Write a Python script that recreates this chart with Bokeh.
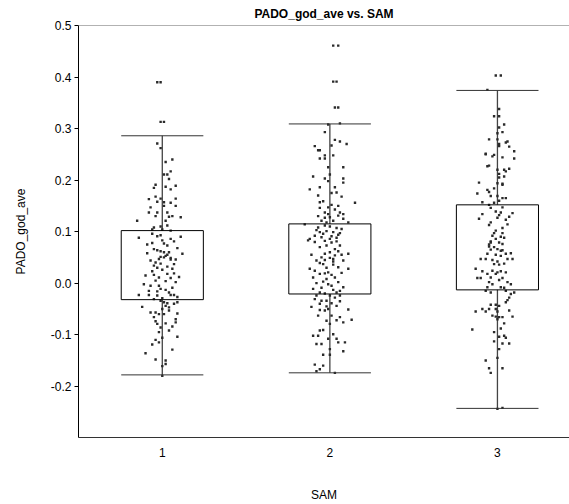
from bokeh.plotting import figure
from bokeh.models import Range1d, FixedTicker, PrintfTickFormatter, Span, ColumnDataSource
from bokeh.embed import file_html
from bokeh.resources import INLINE

# ---------------- data ----------------
categories = [1, 2, 3]
tick_labels = {1: "1", 2: "2", 3: "3"}
y_ticks = [-0.2, -0.1, 0.0, 0.1, 0.2, 0.3, 0.4, 0.5]

# box statistics
whisker_low = [-0.178, -0.174, -0.243]
q1 = [-0.032, -0.021, -0.013]
median = [0.023, 0.041, 0.051]
q3 = [0.102, 0.115, 0.152]
whisker_high = [0.286, 0.309, 0.374]

# individual observations: (jitter, value)
g1_points = [
    (-0.03, 0.390), (-0.01, 0.390), (-0.01, 0.313), (0.01, 0.313),
    (-0.03, 0.271), (-0.01, 0.262), (0.06, 0.240), (0.02, 0.235), (0.05, 0.217),
    (0.01, 0.211), (0.03, 0.211), (0.04, 0.202), (-0.04, 0.191), (-0.05, 0.185),
    (0.02, 0.187), (0.05, 0.182), (0.08, 0.189), (-0.01, 0.164), (-0.04, 0.168),
    (-0.08, 0.163), (0.08, 0.164), (-0.03, 0.158), (0.01, 0.157), (0.05, 0.156),
    (-0.07, 0.147), (0.01, 0.150), (0.08, 0.150), (-0.08, 0.137), (-0.03, 0.137),
    (0.03, 0.137), (-0.04, 0.130), (0.04, 0.129), (0.06, 0.130), (0.11, 0.128),
    (-0.15, 0.121), (0.02, 0.121), (0.03, 0.112), (-0.05, 0.108), (-0.01, 0.110),
    (0.00, 0.104), (0.05, 0.102), (-0.06, 0.104),
    (-0.14, 0.088), (-0.03, 0.091), (-0.01, 0.093), (0.11, 0.090), (-0.06, 0.078),
    (-0.09, 0.075), (0.00, 0.083), (0.01, 0.077), (0.03, 0.073), (0.05, 0.086),
    (-0.05, 0.066), (-0.03, 0.064), (-0.01, 0.062), (0.01, 0.060), (0.04, 0.060),
    (0.12, 0.057), (0.02, 0.053), (-0.01, 0.051), (-0.02, 0.047), (0.05, 0.046),
    (0.08, 0.046), (0.03, 0.055), (0.01, 0.050), (0.05, 0.049), (-0.07, 0.044),
    (-0.04, 0.040), (-0.01, 0.038), (0.07, 0.037), (-0.05, 0.034), (0.03, 0.032),
    (-0.03, 0.030), (0.06, 0.028), (0.00, 0.026), (-0.10, 0.015), (-0.05, 0.016),
    (0.03, 0.018), (0.07, 0.019), (-0.02, 0.011), (0.05, 0.010), (-0.04, 0.005),
    (0.02, 0.004), (0.08, 0.002), (-0.07, -0.005), (-0.02, -0.005), (-0.01, -0.011),
    (0.06, -0.009), (-0.08, -0.015), (-0.03, -0.016), (0.04, -0.018), (-0.14, -0.023),
    (-0.08, -0.023), (-0.03, -0.024), (0.05, -0.023), (0.07, -0.023), (0.00, -0.029),
    (-0.05, -0.031),
    (-0.01, -0.034), (0.01, -0.037), (0.03, -0.039), (0.09, -0.037), (0.07, -0.040),
    (0.02, -0.044), (0.04, -0.047), (0.00, -0.050), (-0.07, -0.057), (-0.04, -0.057),
    (-0.02, -0.060), (0.01, -0.060), (0.09, -0.059), (0.04, -0.053), (-0.05, -0.066),
    (0.08, -0.070), (-0.04, -0.074), (0.02, -0.078), (0.08, -0.076), (0.06, -0.084),
    (-0.01, -0.086), (-0.03, -0.079), (0.04, -0.092), (-0.02, -0.095), (0.09, -0.104),
    (0.00, -0.106), (-0.04, -0.110), (-0.02, -0.115), (-0.06, -0.119), (0.06, -0.129),
    (-0.10, -0.136), (-0.04, -0.148), (0.02, -0.150), (0.02, -0.157), (0.00, -0.161),
    (0.00, -0.180),
    (-0.06, 0.096), (0.07, 0.081), (-0.09, 0.058), (0.09, 0.068), (-0.06, 0.023),
    (0.10, 0.012), (-0.11, -0.002), (0.02, -0.013), (0.09, -0.027), (-0.12, -0.046),
]

g2_points = [
    (0.02, 0.461), (0.05, 0.461), (0.02, 0.391), (0.04, 0.391), (0.03, 0.341), (0.05, 0.341),
    (-0.01, 0.308), (0.06, 0.310), (-0.03, 0.293), (0.03, 0.278), (0.06, 0.275),
    (0.10, 0.270), (-0.09, 0.266), (0.01, 0.267), (-0.07, 0.258), (-0.06, 0.258),
    (0.02, 0.248), (-0.03, 0.248), (-0.06, 0.242), (-0.03, 0.242), (-0.01, 0.225),
    (0.08, 0.225), (0.00, 0.211), (-0.10, 0.207), (-0.03, 0.203), (0.08, 0.203),
    (-0.01, 0.198), (0.08, 0.195), (-0.06, 0.186), (0.03, 0.186), (-0.12, 0.182),
    (0.01, 0.175), (0.04, 0.176), (-0.07, 0.170), (0.07, 0.168), (0.15, 0.156),
    (-0.06, 0.157), (-0.04, 0.159), (0.01, 0.152), (0.05, 0.150), (-0.01, 0.147),
    (-0.06, 0.146), (0.03, 0.143), (0.06, 0.137), (-0.03, 0.137), (-0.01, 0.134),
    (0.08, 0.134), (0.05, 0.131), (-0.07, 0.130), (0.00, 0.128), (-0.03, 0.127),
    (0.08, 0.125), (0.02, 0.121), (-0.05, 0.121), (0.11, 0.118), (-0.02, 0.118),
    (-0.15, 0.114),
    (-0.07, 0.108), (-0.03, 0.112), (0.00, 0.110), (0.04, 0.107), (0.07, 0.105),
    (-0.06, 0.099), (-0.02, 0.101), (0.02, 0.099), (0.06, 0.097), (-0.09, 0.092),
    (-0.05, 0.089), (0.00, 0.086), (0.04, 0.088), (-0.12, 0.086), (-0.04, 0.096),
    (0.05, 0.094), (-0.13, 0.083), (-0.09, 0.080), (-0.03, 0.082), (0.01, 0.079),
    (0.04, 0.081), (-0.02, 0.073), (0.06, 0.073), (-0.06, 0.070), (0.03, 0.066),
    (0.11, 0.057), (-0.11, 0.055), (-0.03, 0.057), (0.00, 0.060), (0.05, 0.062),
    (0.07, 0.055), (-0.05, 0.050), (0.00, 0.049), (0.02, 0.047), (-0.08, 0.044),
    (-0.03, 0.045), (0.02, 0.042), (-0.12, 0.028), (-0.09, 0.024), (-0.04, 0.037),
    (0.02, 0.036), (0.11, 0.028), (-0.02, 0.030), (0.05, 0.031), (-0.06, 0.018),
    (-0.03, 0.019), (0.01, 0.016), (-0.10, 0.011), (-0.02, 0.008), (0.03, 0.011),
    (0.05, 0.002), (-0.08, 0.000), (-0.01, -0.002), (0.08, -0.008), (-0.05, -0.009),
    (-0.10, -0.011), (0.02, -0.013), (0.06, -0.015), (-0.06, -0.018), (-0.03, -0.020),
    (0.04, -0.018),
    (-0.08, -0.024), (0.00, -0.024), (0.06, -0.024), (0.03, -0.028), (-0.09, -0.031),
    (-0.05, -0.034), (-0.02, -0.034), (0.06, -0.035), (-0.06, -0.040), (0.01, -0.039),
    (0.04, -0.044), (-0.11, -0.046), (-0.01, -0.050), (0.11, -0.051), (-0.06, -0.052),
    (-0.03, -0.053), (0.01, -0.063), (-0.07, -0.063), (0.06, -0.066), (0.13, -0.071),
    (-0.02, -0.073), (0.04, -0.072), (0.08, -0.076), (0.00, -0.079), (-0.06, -0.092),
    (-0.04, -0.091), (-0.10, -0.102), (-0.07, -0.102), (0.02, -0.099), (-0.01, -0.108),
    (0.04, -0.108), (-0.08, -0.118), (-0.05, -0.118), (0.05, -0.115), (0.09, -0.115),
    (0.00, -0.128), (-0.04, -0.139), (0.00, -0.139), (0.08, -0.132), (-0.09, -0.158),
    (-0.04, -0.160), (-0.06, -0.167), (-0.08, -0.171), (0.03, -0.174),
    (0.01, 0.091), (-0.08, 0.103), (0.03, 0.054), (-0.06, 0.039), (0.08, 0.044),
    (-0.01, 0.021), (0.07, 0.020), (-0.04, 0.003), (0.01, -0.005), (-0.02, -0.045),
]

g3_points = [
    (-0.01, 0.403), (0.02, 0.403), (-0.06, 0.375),
    (0.01, 0.338), (-0.02, 0.324), (0.01, 0.324), (0.04, 0.308), (0.01, 0.302),
    (0.03, 0.293), (0.00, 0.291), (-0.05, 0.279), (0.00, 0.279), (0.06, 0.275),
    (0.05, 0.273), (0.01, 0.270), (0.01, 0.266), (0.07, 0.265), (0.10, 0.256),
    (-0.07, 0.251), (-0.07, 0.250), (-0.02, 0.249), (-0.03, 0.246), (0.03, 0.244),
    (0.10, 0.242), (-0.06, 0.227), (-0.05, 0.228), (0.07, 0.222), (0.04, 0.220),
    (0.00, 0.220), (0.05, 0.217), (0.01, 0.212), (0.04, 0.207), (0.01, 0.205),
    (-0.11, 0.195), (0.00, 0.194), (0.03, 0.191), (0.03, 0.193), (-0.02, 0.184),
    (-0.06, 0.181), (-0.05, 0.177), (-0.12, 0.174), (-0.04, 0.169), (0.00, 0.169),
    (0.03, 0.165), (0.05, 0.165), (-0.09, 0.157), (-0.02, 0.156), (0.01, 0.160),
    (-0.05, 0.152), (0.03, 0.147), (-0.04, 0.146), (-0.01, 0.139), (0.02, 0.137),
    (0.09, 0.136), (-0.09, 0.134), (0.01, 0.132), (0.07, 0.129), (-0.11, 0.125),
    (0.00, 0.127), (0.05, 0.123), (-0.04, 0.118), (-0.05, 0.113), (0.06, 0.114),
    (0.03, 0.107), (-0.01, 0.102), (-0.02, 0.097), (0.03, 0.097), (-0.03, 0.092),
    (0.02, 0.090), (0.04, 0.088), (-0.01, 0.086), (-0.04, 0.081), (0.01, 0.079),
    (-0.05, 0.075), (0.03, 0.076), (-0.02, 0.070), (0.00, 0.066), (0.03, 0.064),
    (-0.04, 0.079), (-0.05, 0.071), (-0.04, 0.065), (0.02, 0.063), (-0.06, 0.057),
    (-0.01, 0.055), (0.05, 0.057), (0.08, 0.058), (0.02, 0.053), (-0.10, 0.047),
    (-0.07, 0.047), (-0.03, 0.045), (0.00, 0.042), (0.06, 0.047), (0.09, 0.047),
    (-0.02, 0.037), (0.01, 0.036), (0.04, 0.038), (-0.13, 0.028), (-0.09, 0.023),
    (-0.03, 0.024), (0.00, 0.021), (0.02, 0.023), (0.05, 0.021), (-0.06, 0.018),
    (-0.01, 0.018), (-0.12, 0.010), (-0.10, 0.010), (-0.04, 0.011), (0.03, 0.010),
    (0.01, 0.006), (-0.05, 0.002), (-0.03, -0.002), (0.06, 0.002), (0.08, -0.002),
    (-0.06, -0.008), (0.02, -0.008), (0.04, -0.009),
    (-0.07, -0.015), (0.05, -0.015), (0.10, -0.018), (-0.04, -0.018), (0.08, -0.021),
    (0.07, -0.028), (0.06, -0.033), (0.05, -0.037), (-0.04, -0.042), (-0.01, -0.042),
    (0.01, -0.044), (-0.05, -0.050), (-0.09, -0.050), (-0.13, -0.055), (-0.07, -0.055),
    (-0.01, -0.050), (0.00, -0.055), (0.07, -0.053), (-0.03, -0.063), (-0.01, -0.065),
    (0.01, -0.066), (0.03, -0.066), (0.09, -0.065), (0.00, -0.070), (0.04, -0.078),
    (-0.15, -0.090), (0.02, -0.088), (-0.02, -0.095), (0.01, -0.104), (0.04, -0.102),
    (0.05, -0.106), (-0.02, -0.113), (0.03, -0.117), (0.07, -0.117), (0.01, -0.128),
    (0.00, -0.145), (-0.07, -0.150), (-0.05, -0.165), (0.03, -0.165), (-0.04, -0.174),
    (0.00, -0.244), (0.03, -0.242),
]

title_text = "PADO_god_ave vs. SAM"
x_label = "SAM"
y_label = "PADO_god_ave"

# ---------------- figure ----------------
FONT = "Liberation Sans"
box_w = 0.49

p = figure(width=569, height=504, output_backend="svg", toolbar_location=None,
           x_range=Range1d(0.5, 3.43), y_range=Range1d(-0.2995, 0.5),
           min_border_left=78, min_border_right=0, min_border_top=25, min_border_bottom=67,
           title=title_text)
p.title.align = "center"
p.title.text_font = FONT
p.title.text_font_size = "12px"
p.title.text_font_style = "bold"
p.title.text_color = "black"
p.title.standoff = 9
p.title.offset = 0
p.outline_line_color = None
p.xgrid.visible = False
p.ygrid.visible = False
p.background_fill_color = "white"
p.border_fill_color = "white"

# axes
p.xaxis.ticker = FixedTicker(ticks=categories)
p.xaxis.major_label_overrides = tick_labels
p.xaxis.major_tick_line_color = None
p.xaxis.minor_tick_line_color = None
p.xaxis.axis_line_color = "#333333"
p.xaxis.major_label_text_font = FONT
p.xaxis.major_label_text_font_size = "12px"
p.xaxis.major_label_text_color = "black"
p.xaxis.major_label_standoff = 4
p.xaxis.axis_label = x_label
p.xaxis.axis_label_text_font = FONT
p.xaxis.axis_label_text_font_size = "12px"
p.xaxis.axis_label_text_font_style = "normal"
p.xaxis.axis_label_text_color = "black"
p.xaxis.axis_label_standoff = 28

p.yaxis.ticker = FixedTicker(ticks=y_ticks)
p.yaxis.formatter = PrintfTickFormatter(format="%.1f")
p.yaxis.major_tick_out = 4
p.yaxis.major_tick_in = 0
p.yaxis.minor_tick_line_color = None
p.yaxis.axis_line_color = "black"
p.yaxis.major_tick_line_color = "black"
p.yaxis.major_label_text_font = FONT
p.yaxis.major_label_text_font_size = "12px"
p.yaxis.major_label_text_color = "black"
p.yaxis.major_label_standoff = 3
p.yaxis.axis_label = y_label
p.yaxis.axis_label_text_font = FONT
p.yaxis.axis_label_text_font_size = "12px"
p.yaxis.axis_label_text_font_style = "normal"
p.yaxis.axis_label_text_color = "black"
p.yaxis.axis_label_standoff = 20

p.add_layout(Span(location=0.5, dimension="width", line_color="#666666", line_width=1))

# boxes
box_src = ColumnDataSource(dict(x=categories, q1=q1, q3=q3, med=median,
                                lo=whisker_low, hi=whisker_high))
p.vbar(x="x", width=box_w, bottom="q1", top="q3", source=box_src,
       fill_color="white", line_color=None)
# whisker stems
p.segment(x0="x", x1="x", y0="q3", y1="hi", source=box_src, line_color="#444444", line_width=1.3)
p.segment(x0="x", x1="x", y0="lo", y1="q1", source=box_src, line_color="#444444", line_width=1.3)

# points
for cat, pts in zip(categories, [g1_points, g2_points, g3_points]):
    xs = [cat + d for d, _ in pts]
    ys = [v for _, v in pts]
    p.scatter(xs, ys, marker="square", size=2.4, color="#2a2a2a", line_width=0)

# box outlines, medians, caps
p.vbar(x="x", width=box_w, bottom="q1", top="q3", source=box_src,
       fill_color=None, line_color="black", line_width=1)
p.rect(x="x", y="med", width=box_w, height=0, source=box_src, line_color="black",
       fill_color=None, line_width=1)
p.segment(x0=[c - box_w / 2 for c in categories], x1=[c + box_w / 2 for c in categories],
          y0=whisker_high, y1=whisker_high, line_color="#333333", line_width=1)
p.segment(x0=[c - box_w / 2 for c in categories], x1=[c + box_w / 2 for c in categories],
          y0=whisker_low, y1=whisker_low, line_color="#333333", line_width=1)

open("out.html", "w").write(file_html(p, INLINE))
